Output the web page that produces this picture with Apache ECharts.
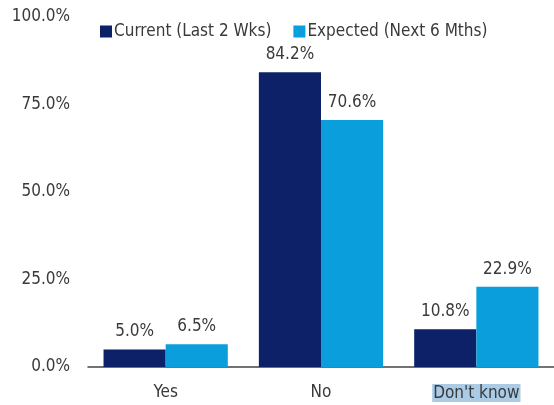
<!DOCTYPE html>
<html>
<head>
<meta charset="utf-8">
<script src="https://cdn.jsdelivr.net/npm/echarts@6/dist/echarts.min.js"></script>
<style>
  html, body { margin: 0; padding: 0; background: #fff; }
  #chart { width: 554px; height: 405px; }
</style>
</head>
<body>
<div id="chart"></div>
<script>
// Survey responses: share answering each option
const categories = ['Yes', 'No', "Don't know"];
const currentValues = [5.0, 84.2, 10.8];
const expectedValues = [6.5, 70.6, 22.9];
const seriesNames = ['Current (Last 2 Wks)', 'Expected (Next 6 Mths)'];
const yTicks = [0, 25, 50, 75, 100];

const FONT = '"Liberation Sans Narrow", "DejaVu Sans Condensed", sans-serif';
const TEXT = '#3a3a3a';
const DARK = '#0c2167';
const LIGHT = '#0a9fdc';

const chart = echarts.init(document.getElementById('chart'), null, { renderer: 'canvas' });

const labelStyle = {
  show: true,
  position: 'top',
  distance: 9,
  color: TEXT,
  fontFamily: FONT,
  fontSize: 17,
  formatter: p => p.value.toFixed(1) + '%'
};

chart.setOption({
  animation: false,
  grid: { left: 88, right: 0, top: 17, bottom: 38 },
  legend: {
    top: 18,
    left: 95,
    itemWidth: 12,
    itemHeight: 12,
    itemGap: 22,
    icon: 'rect',
    textStyle: { color: TEXT, fontFamily: FONT, fontSize: 17, padding: [0, 0, 0, -3] },
    data: seriesNames
  },
  xAxis: {
    type: 'category',
    data: categories,
    axisLine: { lineStyle: { color: '#444', width: 1.5 } },
    axisTick: { show: false },
    axisLabel: {
      interval: 0,
      hideOverlap: false,
      color: TEXT,
      fontFamily: FONT,
      fontSize: 17,
      margin: 17,
      formatter: v => v === "Don't know" ? '{hl|' + v + '}' : v,
      rich: {
        hl: {
          color: TEXT,
          fontFamily: FONT,
          fontSize: 17,
          backgroundColor: '#a9cbe6',
          padding: [1, 1, 0, 1]
        }
      }
    }
  },
  yAxis: {
    type: 'value',
    min: yTicks[0],
    max: yTicks[yTicks.length - 1],
    interval: 25,
    splitLine: { show: false },
    axisLine: { show: false },
    axisTick: { show: false },
    axisLabel: {
      color: TEXT,
      fontFamily: FONT,
      fontSize: 17,
      margin: 18,
      formatter: v => v.toFixed(1) + '%'
    }
  },
  series: [
    {
      name: seriesNames[0],
      type: 'bar',
      data: currentValues,
      itemStyle: { color: DARK },
      barGap: '0%',
      barCategoryGap: '20%',
      label: labelStyle
    },
    {
      name: seriesNames[1],
      type: 'bar',
      data: expectedValues,
      itemStyle: { color: LIGHT },
      barGap: '0%',
      barCategoryGap: '20%',
      label: labelStyle
    }
  ]
});
</script>
</body>
</html>
